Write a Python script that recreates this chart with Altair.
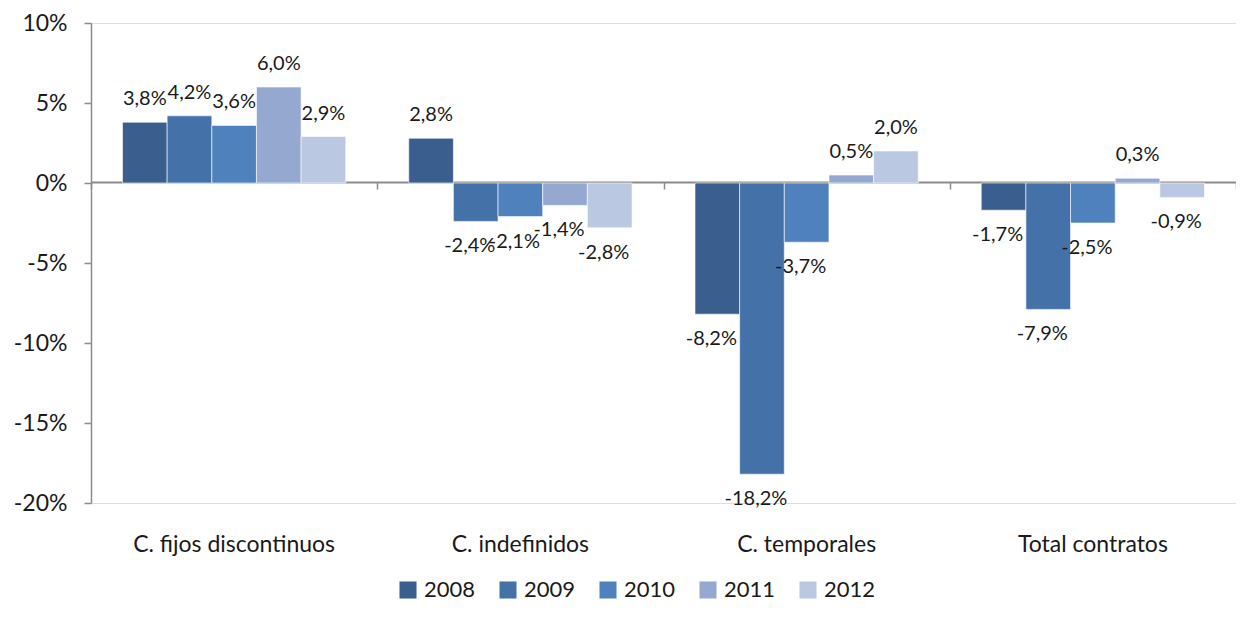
import altair as alt
import pandas as pd

categories = ["C. fijos discontinuos", "C. indefinidos", "C. temporales", "Total contratos"]
years = ["2008", "2009", "2010", "2011", "2012"]
v2008 = [3.8, 2.8, -8.2, -1.7]
v2009 = [4.2, -2.4, -18.2, -7.9]
v2010 = [3.6, -2.1, -3.7, -2.5]
v2011 = [6.0, -1.4, 0.5, 0.3]
v2012 = [2.9, -2.8, 2.0, -0.9]
colors = ["#3a5f8e", "#4472a8", "#4f81bd", "#95a9d0", "#bac8e1"]
y_ticks = [-20, -15, -10, -5, 0, 5, 10]

rows = []
for yr, vals in zip(years, [v2008, v2009, v2010, v2011, v2012]):
    for c, v in zip(categories, vals):
        rows.append({"cat": c, "year": yr, "value": v,
                     "label": f"{v:.1f}".replace(".", ",") + "%"})
df = pd.DataFrame(rows)

FONT = "Lato"
TXT = "#1a1a1a"
GRAY = "#8c8c8c"
W, H = 1145, 480

xscale = alt.Scale(paddingInner=0.22, paddingOuter=0.11)
yscale = alt.Scale(domain=[-20, 10])

x_main = alt.X("cat:N", sort=categories, scale=xscale,
               axis=alt.Axis(title=None, domain=False, ticks=False, labelAngle=0,
                             labelFontSize=23, labelFont=FONT, labelColor=TXT,
                             labelPadding=30, labelLimit=400))
xoff = alt.XOffset("year:N", sort=years, scale=alt.Scale(paddingInner=0, paddingOuter=0))
y_enc = alt.Y("value:Q", scale=yscale,
              axis=alt.Axis(title=None, values=y_ticks, labelExpr="datum.value + '%'",
                            grid=False, domainColor=GRAY, domainWidth=1.5, tickColor=GRAY,
                            tickWidth=1.5, tickSize=7, labelFontSize=23, labelFont=FONT,
                            labelColor=TXT, labelPadding=17))
color = alt.Color("year:N", sort=years,
                  scale=alt.Scale(domain=years, range=colors),
                  legend=alt.Legend(title=None, orient="none", direction="horizontal",
                                    legendX=306, legendY=556, symbolType="square",
                                    symbolSize=290, symbolStrokeWidth=0,
                                    labelFontSize=22, labelFont=FONT, labelColor=TXT,
                                    labelOffset=5, columnPadding=21))

bars = alt.Chart(df).mark_bar(stroke="white", strokeWidth=0.6).encode(
    x=x_main, xOffset=xoff, y=y_enc, color=color)

pos = alt.Chart(df).transform_filter("datum.value >= 0").mark_text(
    dy=-23, fontSize=20, font=FONT, color=TXT).encode(
    x=x_main, xOffset=xoff, y=y_enc, text="label:N")

neg = alt.Chart(df).transform_filter("datum.value < 0").mark_text(
    dy=25, dx=-6, fontSize=20, font=FONT, color=TXT).encode(
    x=x_main, xOffset=xoff, y=y_enc, text="label:N")

zero_axis = alt.Chart(df).mark_bar(opacity=0).encode(
    x=alt.X("cat:N", sort=categories,
            scale=alt.Scale(paddingInner=0, paddingOuter=0),
            axis=alt.Axis(title=None, orient="bottom", offset=-(H - 159), labels=False,
                          domainColor=GRAY, domainWidth=2, tickColor=GRAY, tickWidth=1.5,
                          tickSize=7, tickBand="extent")),
    y=alt.Y("value:Q", scale=yscale))

main = alt.layer(bars, pos, neg)

chart = alt.layer(main, zero_axis).resolve_scale(x="independent").resolve_axis(
    x="independent").properties(
    width=W, height=H,
    autosize=alt.AutoSizeParams(type="none"),
    padding={"left": 83, "top": 15, "right": 0, "bottom": 100},
).configure_view(stroke=None).configure(background="white")

chart.save("out.html", embed_options={"renderer": "svg", "actions": False})
